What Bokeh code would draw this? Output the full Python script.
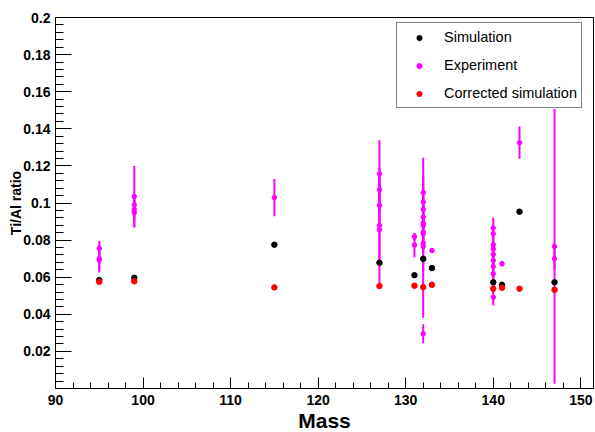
import numpy as np
from bokeh.plotting import figure
from bokeh.models import (Range1d, FixedTicker, CustomJSTickFormatter, Title,
                          Legend, LegendItem)
from bokeh.embed import file_html
from bokeh.resources import INLINE

# ---------------- data ----------------
exp_mass = [95, 95, 95,
            99, 99, 99, 99,
            115,
            127, 127, 127, 127, 127,
            131, 131,
            132, 132, 132, 132, 132, 132, 132, 132, 132, 132, 132,
            133,
            140, 140, 140, 140, 140, 140, 140, 140, 140, 140,
            141,
            143,
            147, 147]
exp_val = [0.0755, 0.0700, 0.0692,
           0.1035, 0.0990, 0.0965, 0.0948,
           0.1029,
           0.1158, 0.1072, 0.0987, 0.0879, 0.0856,
           0.0818, 0.0773,
           0.1056, 0.1005, 0.0965, 0.0924, 0.0892, 0.0879, 0.0843, 0.0834, 0.0784, 0.0766, 0.0295,
           0.0744,
           0.0865, 0.0834, 0.0775, 0.0753, 0.0723, 0.0690, 0.0658, 0.0619, 0.0573, 0.0492,
           0.0673,
           0.1325,
           0.0766, 0.0700]
exp_err = [0.0040, 0.0075, 0.0050,
           0.0165, 0.0060, 0.0050, 0.0080,
           0.0100,
           0.0180, 0.0120, 0.0150, 0.0220, 0.0300,
           0.0020, 0.0065,
           0.0188, 0.0100, 0.0080, 0.0080, 0.0120, 0.0060, 0.0100, 0.0080, 0.0150, 0.0385, 0.0051,
           0.0010,
           0.0056, 0.0040, 0.0050, 0.0040, 0.0060, 0.0050, 0.0060, 0.0070, 0.0060, 0.0044,
           0.0015,
           0.0087,
           0.0741, 0.0060]

sim_mass = [95, 99, 115, 127, 131, 132, 133, 140, 141, 143, 147]
sim_val = [0.0585, 0.0597, 0.0775, 0.0678, 0.0611, 0.0699, 0.0649,
           0.0573, 0.0559, 0.0953, 0.0573]
corr_val = [0.0575, 0.0578, 0.0545, 0.0552, 0.0554, 0.0546, 0.0559,
            0.0538, 0.0543, 0.0538, 0.0532]

x_major = [90, 100, 110, 120, 130, 140, 150]
x_minor = [m for m in range(90, 152, 2) if m % 10 != 0]
y_major = [round(0.02 * i, 3) for i in range(1, 11)]
y_minor = [round(0.004 * i, 4) for i in range(1, 50) if i % 5 != 0]

# ---------------- figure ----------------
FONT = "Liberation Sans"
p = figure(width=595, height=432, output_backend="svg", toolbar_location=None,
           x_range=Range1d(90, 151.45), y_range=Range1d(0, 0.2),
           min_border_left=55, min_border_right=2, min_border_top=17,
           min_border_bottom=44)
p.background_fill_color = "white"
p.border_fill_color = "white"
p.outline_line_color = "black"
p.outline_line_width = 1
p.xgrid.visible = False
p.ygrid.visible = False

p.xaxis.ticker = FixedTicker(ticks=x_major, minor_ticks=x_minor)
p.yaxis.ticker = FixedTicker(ticks=y_major, minor_ticks=y_minor)
p.yaxis.formatter = CustomJSTickFormatter(
    code="return parseFloat(tick.toFixed(3)).toString();")

for ax in (p.xaxis, p.yaxis):
    ax.axis_line_color = "black"
    ax.axis_line_width = 1
    ax.major_tick_line_color = "black"
    ax.minor_tick_line_color = "black"
    ax.major_tick_out = 0
    ax.minor_tick_out = 0
    ax.major_label_text_font = FONT
    ax.major_label_text_font_style = "bold"
    ax.major_label_text_font_size = "14px"
    ax.major_label_text_color = "black"

p.xaxis.major_tick_in = 11
p.xaxis.minor_tick_in = 6
p.xaxis.major_label_standoff = 6
p.yaxis.major_tick_in = 16
p.yaxis.minor_tick_in = 8
p.yaxis.major_label_standoff = 5

p.yaxis.axis_label = "Ti/Al ratio"
p.yaxis.axis_label_text_font = FONT
p.yaxis.axis_label_text_font_style = "bold"
p.yaxis.axis_label_text_font_size = "14px"
p.yaxis.axis_label_text_color = "black"
p.yaxis.axis_label_standoff = -4

# ---------------- marks ----------------
em = np.array(exp_mass, dtype=float)
ev = np.array(exp_val)
ee = np.array(exp_err)
p.segment(x0=em, y0=ev - ee, x1=em, y1=ev + ee, line_color="#ff00ff", line_width=2)
r_exp = p.scatter(em, ev, size=4.5, color="#ff00ff", marker="circle")
r_sim = p.scatter(sim_mass, sim_val, size=5.5, color="black", marker="circle")
r_corr = p.scatter(sim_mass, corr_val, size=5.5, color="#ff0000", marker="circle")

# ---------------- x title ----------------
p.add_layout(Title(text="Mass", align="center", offset=-15, standoff=-2,
                   text_font=FONT, text_font_style="bold",
                   text_font_size="21px", text_color="black"), "below")

# ---------------- legend ----------------
legend = Legend(items=[LegendItem(label="Simulation", renderers=[r_sim]),
                       LegendItem(label="Experiment", renderers=[r_exp]),
                       LegendItem(label="Corrected simulation", renderers=[r_corr])],
                location=(341, 280), margin=0, padding=4, spacing=8,
                glyph_width=36, glyph_height=13, label_height=20,
                label_standoff=7, label_text_font=FONT,
                label_text_font_size="14.5px", label_text_color="black",
                border_line_color="black", border_line_width=1,
                background_fill_color="white", background_fill_alpha=1.0)
p.add_layout(legend)

open("out.html", "w").write(file_html(p, INLINE))
